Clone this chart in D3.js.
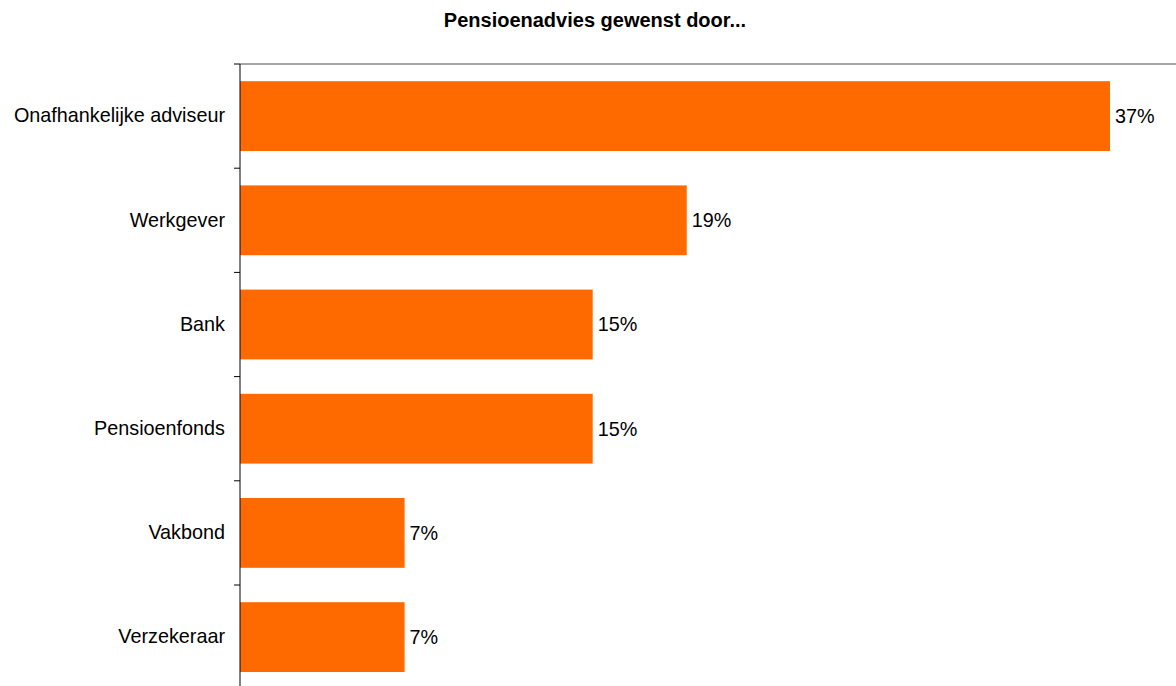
<!DOCTYPE html>
<html>
<head>
<meta charset="utf-8">
<script src="https://cdn.jsdelivr.net/npm/d3@7"></script>
<style>
  html, body { margin: 0; padding: 0; background: #fff; }
  svg { display: block; font-family: "Liberation Sans", Arial, sans-serif; }
</style>
</head>
<body>
<div id="bar-chart"></div>
<script>
// Data
const categories = ['Onafhankelijke adviseur', 'Werkgever', 'Bank', 'Pensioenfonds', 'Vakbond', 'Verzekeraar'];
const values = [37, 19, 15, 15, 7, 7];
const title = 'Pensioenadvies gewenst door...';

const width = 1176, height = 686;
const margin = {top: 64, left: 240};
const step = 104.2;

const svg = d3.select('#bar-chart')
    .append('svg')
    .attr('width', width)
    .attr('height', height);

// Scales
const xScale = d3.scaleLinear()
    .domain([0, 37])
    .range([margin.left, 1110]);

const yScale = d3.scaleBand()
    .domain(categories)
    .range([margin.top, margin.top + step * categories.length])
    .paddingInner(0.33)
    .paddingOuter(0.165);

// Title
svg.append('text')
    .attr('x', 595)
    .attr('y', 27)
    .attr('text-anchor', 'middle')
    .style('font-size', '20px')
    .style('font-weight', 'bold')
    .attr('fill', '#000')
    .text(title);

// Top border line of plot area
svg.append('line')
    .attr('x1', margin.left)
    .attr('x2', width)
    .attr('y1', margin.top)
    .attr('y2', margin.top)
    .attr('stroke', '#888')
    .attr('stroke-width', 1.5);

// Bars
svg.selectAll('.bar')
    .data(values)
    .enter()
    .append('rect')
    .attr('class', 'bar')
    .attr('x', xScale(0))
    .attr('y', (d, i) => yScale(categories[i]))
    .attr('width', d => xScale(d) - xScale(0))
    .attr('height', yScale.bandwidth())
    .attr('fill', '#ff6a00');

// Value labels
svg.selectAll('.val')
    .data(values)
    .enter()
    .append('text')
    .attr('class', 'val')
    .attr('x', d => xScale(d) + 5)
    .attr('y', (d, i) => yScale(categories[i]) + yScale.bandwidth() / 2)
    .attr('dy', '0.35em')
    .style('font-size', '19.8px')
    .attr('fill', '#000')
    .text(d => d + '%');

// Y axis
const axis = svg.append('g')
    .attr('transform', `translate(${margin.left},0)`)
    .call(d3.axisLeft(yScale).tickSize(0).tickPadding(15));

axis.select('.domain').remove();
axis.selectAll('text')
    .style('font-size', '19.8px')
    .style('font-family', '"Liberation Sans", Arial, sans-serif')
    .attr('fill', '#000');

// Axis line and category boundary ticks
svg.append('line')
    .attr('x1', margin.left)
    .attr('x2', margin.left)
    .attr('y1', margin.top)
    .attr('y2', margin.top + step * categories.length)
    .attr('stroke', '#000')
    .attr('stroke-width', 1);

svg.selectAll('.tick-mark')
    .data(d3.range(categories.length + 1))
    .enter()
    .append('line')
    .attr('class', 'tick-mark')
    .attr('x1', margin.left - 6)
    .attr('x2', margin.left)
    .attr('y1', i => margin.top + step * i)
    .attr('y2', i => margin.top + step * i)
    .attr('stroke', '#000')
    .attr('stroke-width', 1);
</script>
</body>
</html>
